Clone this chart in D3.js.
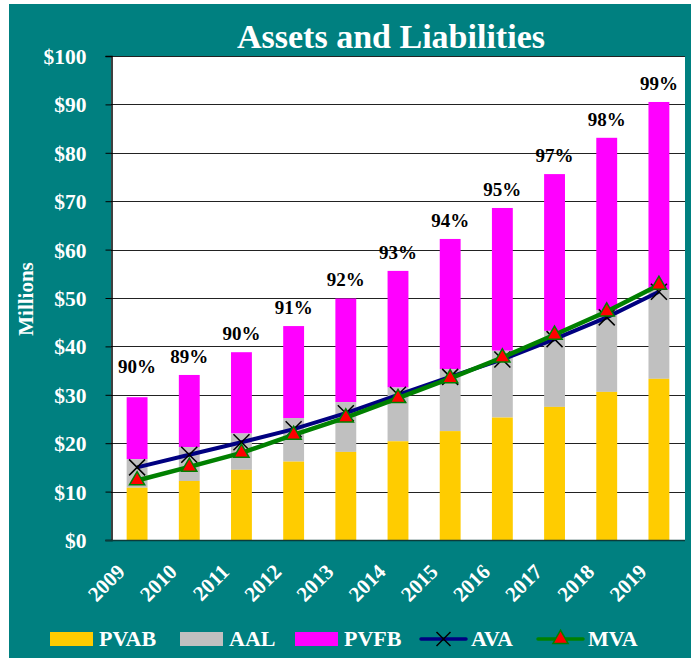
<!DOCTYPE html>
<html>
<head>
<meta charset="utf-8">
<script src="https://cdn.jsdelivr.net/npm/d3@7/dist/d3.min.js"></script>
<style>
  html, body { margin: 0; padding: 0; background: #ffffff; }
  svg { display: block; }
  text { font-family: "Liberation Serif", "Times New Roman", serif; font-weight: bold; }
</style>
</head>
<body>
<div id="chart"></div>
<script>
// ---- data ----
const years = ["2009","2010","2011","2012","2013","2014","2015","2016","2017","2018","2019"];
const pvab  = [10.8, 12.2, 14.5, 16.2, 18.2, 20.4, 22.5, 25.3, 27.5, 30.6, 33.3];
const aal   = [16.7, 19.2, 22.0, 25.2, 28.5, 31.5, 35.3, 39.1, 43.2, 47.5, 51.7];
const pvfb  = [29.5, 34.1, 38.8, 44.2, 49.9, 55.6, 62.2, 68.6, 75.6, 83.1, 90.5];
const ava   = [15.0, 17.6, 20.2, 22.9, 26.2, 30.0, 33.7, 37.3, 41.5, 46.0, 51.3];
const mva   = [12.3, 15.1, 18.0, 21.7, 25.3, 29.3, 33.4, 37.7, 42.4, 47.2, 52.7];
const pctLabels = ["90%","89%","90%","91%","92%","93%","94%","95%","97%","98%","99%"];
const pctLabelAt = [32.0, 34.1, 38.8, 44.2, 49.9, 55.6, 62.2, 68.6, 75.6, 83.1, 90.5];
const yTicks = [0,10,20,30,40,50,60,70,80,90,100];
const legendItems = ["PVAB","AAL","PVFB","AVA","MVA"];

// ---- styles ----
const W = 691, H = 658;
const teal = "#008080";
const colors = { PVAB: "#ffcc00", AAL: "#c0c0c0", PVFB: "#ff00ff", AVA: "#000080", MVA: "#008000" };
const plot = { left: 111, right: 685, top: 56, bottom: 540 };

const svg = d3.select("#chart").append("svg").attr("width", W).attr("height", H);

svg.append("rect").attr("x", 9).attr("y", 4).attr("width", W - 9).attr("height", H - 4).attr("fill", teal);

svg.append("rect")
  .attr("x", plot.left).attr("y", plot.top)
  .attr("width", plot.right - plot.left).attr("height", plot.bottom - plot.top)
  .attr("fill", "#ffffff");

const x = d3.scaleBand().domain(years).range([plot.left, plot.right]).paddingInner(0.6).paddingOuter(0.3);
const xc = d => x(d) + x.bandwidth() / 2;
const y = d3.scaleLinear().domain([0, 100]).range([plot.bottom, plot.top]);

// title
svg.append("text")
  .attr("x", 391).attr("y", 48)
  .attr("text-anchor", "middle")
  .attr("fill", "#ffffff")
  .attr("font-size", 34)
  .text("Assets and Liabilities");

// gridlines
svg.append("g")
  .selectAll("line")
  .data(yTicks.filter(t => t > 0))
  .join("line")
  .attr("x1", plot.left).attr("x2", plot.right)
  .attr("y1", d => Math.round(y(d)) + 0.5).attr("y2", d => Math.round(y(d)) + 0.5)
  .attr("stroke", "#222").attr("stroke-width", 1);

// bars
const barW = x.bandwidth();
const bars = svg.append("g");
years.forEach((yr, i) => {
  bars.append("rect").attr("x", x(yr)).attr("width", barW)
    .attr("y", y(pvfb[i])).attr("height", y(aal[i]) - y(pvfb[i])).attr("fill", colors.PVFB);
  bars.append("rect").attr("x", x(yr)).attr("width", barW)
    .attr("y", y(aal[i])).attr("height", y(pvab[i]) - y(aal[i])).attr("fill", colors.AAL);
  bars.append("rect").attr("x", x(yr)).attr("width", barW)
    .attr("y", y(pvab[i])).attr("height", y(0) - y(pvab[i])).attr("fill", colors.PVAB);
});

// y axis
const yAxis = d3.axisLeft(y).tickValues(yTicks).tickSize(6).tickPadding(19).tickFormat(d => "$" + d);
const ya = svg.append("g").attr("transform", `translate(${plot.left + 0.5},0)`).call(yAxis);
ya.select(".domain").attr("stroke", "#000").attr("stroke-width", 1.5);
ya.selectAll(".tick line").attr("stroke", "#000");
ya.selectAll(".tick text")
  .attr("fill", "#ffffff")
  .attr("font-size", 21.5)
  .attr("font-family", "'Liberation Serif', 'Times New Roman', serif")
  .attr("font-weight", "bold")
  .attr("dy", "0.35em");

// bottom axis line
svg.append("line")
  .attr("x1", plot.left - 6).attr("x2", plot.right)
  .attr("y1", plot.bottom + 0.5).attr("y2", plot.bottom + 0.5)
  .attr("stroke", "#0b3b3b").attr("stroke-width", 1.5);

// x labels
const xAxis = d3.axisBottom(x).tickSize(0).tickPadding(0);
const xa = svg.append("g").attr("transform", `translate(0,${plot.bottom})`).call(xAxis);
xa.select(".domain").remove();
xa.selectAll(".tick text")
  .attr("fill", "#ffffff")
  .attr("font-size", 21)
  .attr("font-family", "'Liberation Serif', 'Times New Roman', serif")
  .attr("font-weight", "bold")
  .attr("text-anchor", "end")
  .attr("transform", "translate(-11,33) rotate(-45)")
  .attr("dy", 0).attr("y", 0);

// Millions label
svg.append("text")
  .attr("transform", "translate(33,299) rotate(-90)")
  .attr("text-anchor", "middle")
  .attr("fill", "#ffffff")
  .attr("font-size", 21)
  .text("Millions");

// lines
const line = d3.line().x((d, i) => xc(years[i])).y(d => y(d));

svg.append("path").datum(ava).attr("d", line)
  .attr("fill", "none").attr("stroke", colors.AVA).attr("stroke-width", 4);
const xMark = (g, cx, cy, s) => {
  g.append("path")
    .attr("d", `M${cx - s},${cy - s}L${cx + s},${cy + s}M${cx - s},${cy + s}L${cx + s},${cy - s}`)
    .attr("stroke", "#000").attr("stroke-width", 1.5).attr("fill", "none");
};
const avaG = svg.append("g");
ava.forEach((v, i) => xMark(avaG, xc(years[i]), y(v), 8));

svg.append("path").datum(mva).attr("d", line)
  .attr("fill", "none").attr("stroke", colors.MVA).attr("stroke-width", 4.5);
const tri = d3.symbol().type(d3.symbolTriangle).size(100);
svg.append("g").selectAll("path").data(mva).join("path")
  .attr("d", tri)
  .attr("transform", (d, i) => `translate(${xc(years[i])},${y(d)})`)
  .attr("fill", "#ff0000").attr("stroke", colors.MVA).attr("stroke-width", 1.5);

// percent labels
svg.append("g").selectAll("text").data(pctLabels).join("text")
  .attr("x", (d, i) => xc(years[i]))
  .attr("y", (d, i) => y(pctLabelAt[i]) - 12)
  .attr("text-anchor", "middle")
  .attr("fill", "#000")
  .attr("font-size", 19)
  .text(d => d);

// legend
const lg = svg.append("g");
const legendX = [50, 180, 295, 421, 538];
legendItems.forEach((name, i) => {
  const lx = legendX[i];
  if (i < 3) {
    lg.append("rect").attr("x", lx).attr("y", 632).attr("width", 43).attr("height", 14).attr("fill", colors[name]);
  } else {
    lg.append("line").attr("x1", lx).attr("x2", lx + 45).attr("y1", 639).attr("y2", 639)
      .attr("stroke", colors[name]).attr("stroke-width", 3.5).attr("stroke-linecap", "round");
    if (name === "AVA") {
      xMark(lg, lx + 22.5, 639, 7);
    } else {
      lg.append("path").attr("d", tri).attr("transform", `translate(${lx + 22.5},639)`)
        .attr("fill", "#ff0000").attr("stroke", colors.MVA).attr("stroke-width", 1.5);
    }
  }
  lg.append("text").attr("x", lx + (i < 3 ? 49 : 50)).attr("y", 645.5)
    .attr("fill", "#ffffff").attr("font-size", 22).text(name);
});
</script>
</body>
</html>
